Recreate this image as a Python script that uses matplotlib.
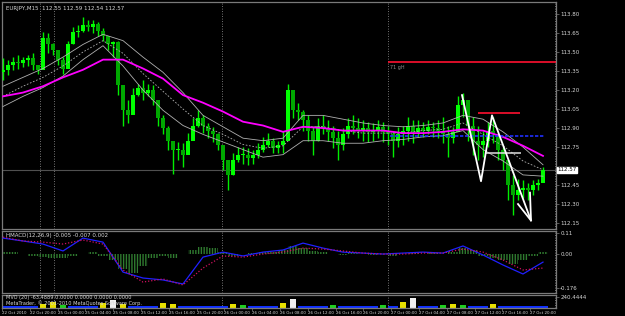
import numpy as np
import matplotlib
matplotlib.use('Agg')
import matplotlib.pyplot as plt

# EURJPY M15 - each entry is one (compressed) bar
highs = [113.45, 113.44, 113.46, 113.48, 113.46, 113.48, 113.49, 113.40, 113.66, 113.65,
         113.57, 113.50, 113.46, 113.59, 113.70, 113.71, 113.78, 113.75, 113.75, 113.74,
         113.69, 113.62, 113.59, 113.59, 113.16, 113.12, 113.22, 113.25, 113.28, 113.25,
         113.24, 113.12, 113.00, 112.92, 112.80, 112.79, 112.78, 112.86, 112.98, 113.04,
         113.00, 112.94, 112.91, 112.86, 112.77, 112.65, 112.70, 112.75, 112.75, 112.74,
         112.73, 112.78, 112.83, 112.86, 112.82, 112.80, 112.88, 113.25, 113.20, 113.10,
         113.04, 113.00, 112.92, 112.98, 113.00, 112.96, 112.92, 112.88, 112.90, 112.98,
         113.00, 112.98, 112.96, 112.95, 112.94, 112.96, 112.95, 112.92, 112.88, 112.91,
         112.92, 112.99, 112.96, 112.96, 112.95, 112.96, 112.95, 112.96, 112.99, 112.92,
         112.91, 113.15, 113.18, 113.04, 112.99, 112.92, 112.88, 112.95, 112.99, 112.83,
         112.75, 112.65, 112.53, 112.50, 112.49, 112.47, 112.49, 112.50, 112.59]
lows = [113.28, 113.32, 113.36, 113.37, 113.38, 113.39, 113.36, 113.33, 113.52, 113.49,
        113.48, 113.40, 113.33, 113.42, 113.56, 113.62, 113.66, 113.67, 113.65, 113.63,
        113.59, 113.52, 113.46, 113.16, 112.92, 112.94, 113.08, 113.15, 113.12, 113.15,
        113.08, 112.92, 112.85, 112.73, 112.54, 112.65, 112.59, 112.73, 112.83, 112.91,
        112.86, 112.82, 112.79, 112.73, 112.57, 112.41, 112.53, 112.63, 112.62, 112.61,
        112.62, 112.66, 112.71, 112.75, 112.70, 112.70, 112.70, 112.85, 112.98, 112.96,
        112.88, 112.80, 112.69, 112.80, 112.85, 112.80, 112.74, 112.65, 112.73, 112.82,
        112.85, 112.82, 112.80, 112.79, 112.80, 112.82, 112.79, 112.77, 112.67, 112.75,
        112.77, 112.80, 112.78, 112.83, 112.83, 112.85, 112.83, 112.82, 112.78, 112.67,
        112.78, 112.88, 112.99, 112.80, 112.69, 112.65, 112.67, 112.75, 112.78, 112.65,
        112.57, 112.33, 112.21, 112.33, 112.35, 112.33, 112.37, 112.41, 112.49]
closes = [113.36, 113.40, 113.42, 113.41, 113.44, 113.45, 113.40, 113.36, 113.61, 113.56,
          113.52, 113.44, 113.37, 113.56, 113.66, 113.67, 113.71, 113.70, 113.72, 113.67,
          113.63, 113.56, 113.58, 113.24, 113.04, 113.00, 113.16, 113.22, 113.18, 113.20,
          113.12, 112.98, 112.90, 112.80, 112.73, 112.73, 112.69, 112.80, 112.92, 112.98,
          112.92, 112.88, 112.85, 112.77, 112.65, 112.53, 112.65, 112.69, 112.69, 112.66,
          112.69, 112.73, 112.77, 112.80, 112.74, 112.77, 112.80, 113.20, 113.04, 113.03,
          112.96, 112.88, 112.80, 112.92, 112.90, 112.87, 112.82, 112.77, 112.85, 112.92,
          112.90, 112.88, 112.90, 112.87, 112.88, 112.91, 112.87, 112.85, 112.80, 112.85,
          112.88, 112.92, 112.87, 112.90, 112.88, 112.91, 112.90, 112.88, 112.85, 112.82,
          112.87, 113.08, 113.12, 112.92, 112.80, 112.77, 112.80, 112.88, 112.85, 112.73,
          112.65, 112.45, 112.37, 112.41, 112.43, 112.41, 112.45, 112.47, 112.57]
first_open = 113.34

# indicator lines, read every 4th bar
ma_slow = [113.15, 113.18, 113.23, 113.30, 113.36, 113.44, 113.44, 113.37, 113.29, 113.16,
           113.10, 113.03, 112.95, 112.92, 112.87, 112.91, 112.90, 112.88, 112.88, 112.88,
           112.86, 112.86, 112.87, 112.89, 112.88, 112.83, 112.76, 112.68]
env_up = [113.23, 113.30, 113.37, 113.46, 113.56, 113.64, 113.59, 113.46, 113.34, 113.18,
          113.00, 112.91, 112.82, 112.80, 112.82, 113.00, 113.00, 112.97, 112.94, 112.92,
          112.91, 112.92, 112.94, 113.00, 112.97, 112.87, 112.75, 112.61]
env_mid = [113.15, 113.23, 113.30, 113.39, 113.50, 113.59, 113.49, 113.33, 113.19, 113.05,
           112.92, 112.85, 112.77, 112.74, 112.76, 112.91, 112.91, 112.88, 112.86, 112.86,
           112.86, 112.88, 112.89, 112.94, 112.85, 112.76, 112.64, 112.57]
env_lo = [113.07, 113.15, 113.22, 113.31, 113.44, 113.55, 113.39, 113.20, 113.04, 112.92,
          112.85, 112.79, 112.73, 112.67, 112.69, 112.80, 112.80, 112.78, 112.78, 112.80,
          112.81, 112.83, 112.84, 112.88, 112.73, 112.64, 112.53, 112.52]

macd_main = [0.083, 0.068, 0.052, 0.016, 0.083, 0.062, -0.094, -0.125, -0.135, -0.156,
             -0.016, 0.010, -0.010, 0.010, 0.021, 0.057, 0.031, 0.010, 0.005, 0.000,
             0.005, 0.010, 0.005, 0.042, -0.005, -0.057, -0.104, -0.042]
macd_signal = [0.088, 0.068, 0.062, 0.052, 0.073, 0.052, -0.083, -0.146, -0.130, -0.161,
               -0.073, -0.010, -0.016, 0.000, 0.010, 0.031, 0.026, 0.016, 0.005, 0.000,
               0.000, 0.005, 0.005, 0.026, 0.010, -0.031, -0.083, -0.073]
# histogram, every 2nd bar
macd_hist = [0.01, 0.01, 0.0, -0.01, -0.015, -0.02, -0.02, -0.01, 0.0, 0.01,
             -0.01, -0.03, -0.08, -0.10, -0.06, -0.02, -0.01, -0.02, 0.0, 0.02,
             0.035, 0.03, 0.01, -0.01, 0.0, 0.005, 0.01, 0.01, 0.02, 0.04,
             0.03, 0.015, 0.01, 0.0, -0.005, 0.005, 0.0, -0.005, 0.0, -0.01,
             0.0, 0.005, 0.0, 0.005, 0.0, 0.01, 0.03, 0.02, -0.01, -0.02,
             -0.03, -0.05, -0.03, -0.01, 0.01]
volume = [1, 1, 1, 1, 3, 5, 2, 1, 1, 1, 4, 6, 3, 1, 1, 1, 4, 3, 1, 1,
          1, 1, 1, 3, 2, 1, 1, 1, 4, 7, 1, 1, 1, 2, 1, 1, 1, 1, 2, 1,
          5, 8, 1, 1, 2, 3, 2, 1, 1, 3, 1, 1, 1, 1, 1]

time_labels = ['22 Oct 2010', '22 Oct 20:00', '25 Oct 00:00', '25 Oct 04:00', '25 Oct 08:00',
               '25 Oct 12:00', '25 Oct 16:00', '25 Oct 20:00', '26 Oct 00:00', '26 Oct 04:00',
               '26 Oct 08:00', '26 Oct 12:00', '26 Oct 16:00', '26 Oct 20:00', '27 Oct 00:00',
               '27 Oct 04:00', '27 Oct 08:00', '27 Oct 12:00', '27 Oct 16:00', '27 Oct 20:00']
price_ticks = [113.80, 113.65, 113.50, 113.35, 113.20, 113.05, 112.90, 112.75, 112.45, 112.30, 112.15]
separators = [7.4, 10.2, 43.8, 77.0, 110.4]

BG = '#000000'
GRID = '#7a7a7a'
TXT = '#d8d8d8'

n = len(closes)
x = np.arange(n)
opens = [first_open] + closes[:-1]
xl = (-0.2, 110.6)

fig = plt.figure(figsize=(6.25, 3.16), dpi=100, facecolor=BG)
W, H = 625.0, 316.0
ax = fig.add_axes([2 / W, (H - 229) / H, 554 / W, 227 / H])
axm = fig.add_axes([2 / W, (H - 293) / H, 554 / W, 62 / H])
axv = fig.add_axes([2 / W, (H - 308) / H, 554 / W, 13 / H])

for a in (ax, axm, axv):
    a.set_facecolor(BG)
    a.set_xlim(*xl)
    for s in a.spines.values():
        s.set_color(GRID)
        s.set_linewidth(0.9)
    a.yaxis.tick_right()
    a.tick_params(axis='y', colors=GRID, labelcolor=TXT, labelsize=4.0, length=2, width=0.5, pad=1)
    a.tick_params(axis='x', bottom=False, labelbottom=False)
    for sx in separators:
        a.axvline(sx, color='#9a9a9a', lw=0.6, ls=(0, (1, 2)), zorder=1)

# --- main price panel
ax.set_ylim(112.103, 113.895)
ax.set_yticks(price_ticks)
ax.set_yticklabels(['%.2f' % t for t in price_ticks])

ax.axhline(closes[-1], color='#505050', lw=0.8, zorder=1)

ax.vlines(x, lows, highs, color='#00ee00', lw=1.0, zorder=3)
body = np.array(closes) - np.array(opens)
body = np.where(np.abs(body) < 0.008, 0.008, body)
cols = ['#00ff00' if c >= o else '#00a800' for o, c in zip(opens, closes)]
ax.bar(x, body, bottom=opens, width=0.7, color=cols, zorder=3)

mx = np.arange(0, n, 4)
ax.plot(mx, env_up, color='#b0b0b0', lw=0.6, zorder=4)
ax.plot(mx, env_mid, color='#b0b0b0', lw=0.6, ls=(0, (2, 2)), zorder=4)
ax.plot(mx, env_lo, color='#b0b0b0', lw=0.6, zorder=4)
ax.plot(mx, ma_slow, color='#ff00ff', lw=1.3, zorder=5)

# drawn objects
ax.hlines(113.42, 77.0, 110.6, color='#ff1030', lw=1.2, zorder=6)
ax.text(77.4, 113.395, '71 gH', color='#909090', fontsize=3.5, va='top')
ax.hlines(113.02, 95.0, 103.4, color='#ff1030', lw=1.2, zorder=6)
ax.hlines(112.70, 96.6, 103.6, color='#e0e0e0', lw=1.1, zorder=6)
ax.hlines(112.84, 77.4, 108.4, color='#2030ff', lw=1.2, ls=(0, (2, 1)), zorder=6)
ax.plot([91.8, 95.6, 97.8, 105.6], [113.16, 112.48, 113.00, 112.17], color='white', lw=1.3, zorder=7)
ax.plot([103.0, 105.6, 105.4], [112.30, 112.17, 112.39], color='white', lw=1.3, zorder=7)

ax.text(0.5, 113.86, 'EURJPY,M15  112.55 112.59 112.54 112.57', color=TXT, fontsize=4.0, va='top')
ax.text(110.9, closes[-1], '%.2f' % closes[-1], color='black', fontsize=4.0, va='center',
        bbox=dict(boxstyle='square,pad=0.1', fc='white', ec='white'), clip_on=False, zorder=10)

# --- MACD panel
axm.set_ylim(-0.203, 0.120)
axm.set_yticks([0.11, 0.0, -0.176])
axm.set_yticklabels(['0.11', '0.00', '-0.176'])
hx = np.arange(0, n, 2)
axm.bar(hx, macd_hist, width=2.0, color='none', edgecolor='#2f7a2f', hatch='||||||', linewidth=0, zorder=2)
axm.plot(mx, macd_main, color='#2020ff', lw=0.9, zorder=3)
axm.plot(mx, macd_signal, color='#d01060', lw=0.9, ls=(0, (1, 1.5)), zorder=3)
axm.text(0.5, 0.112, 'HMACD(12,26,9) -0.005 -0.007 0.002', color=TXT, fontsize=4.0, va='top')

# --- volume panel
axv.set_ylim(0, 10)
axv.set_yticks([8.5])
axv.set_yticklabels(['240.4444'])
vcol = ['#f0f0f0' if v >= 6 else '#e8e000' if v >= 3 else '#20d020' if v == 2 else '#1030ff' for v in volume]
vh = [v if v > 1 else 1.8 for v in volume]
axv.bar(hx, vh, width=[1.2 if v > 1 else 2.0 for v in volume], color=vcol, zorder=2)
axv.text(0.5, 9.8, 'MVO (20) -63.4889 0.0000 0.0000 0.0000 0.0000', color=TXT, fontsize=3.6, va='top')
axv.text(0.5, 3.8, 'MetaTrader, \u00a9 2001-2010 MetaQuotes Software Corp.', color=TXT, fontsize=3.6, va='center')

tick_pos = [-0.2 + 5.56 * k for k in range(len(time_labels))]
axv.set_xticks(tick_pos)
axv.set_xticklabels(time_labels, ha='left')
axv.tick_params(axis='x', bottom=True, labelbottom=True, colors=GRID, labelcolor=TXT,
                labelsize=2.9, length=2, width=0.5, pad=0.5)

fig.savefig('out.png', dpi=100, facecolor=BG)
